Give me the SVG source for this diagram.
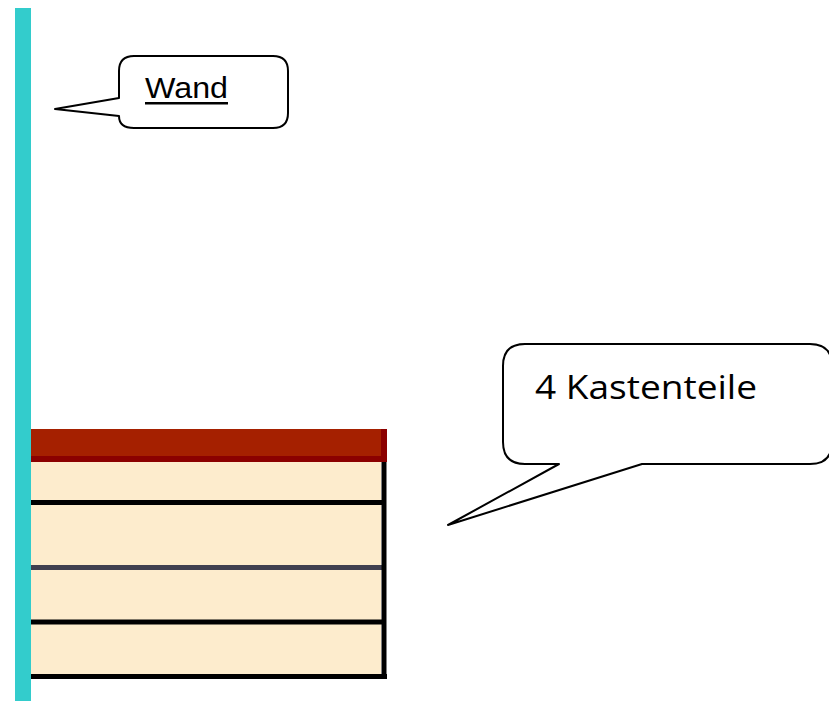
<svg xmlns="http://www.w3.org/2000/svg" width="829" height="701" viewBox="0 0 829 701">
  <style>
    .callout { fill: #ffffff; stroke: #000000; stroke-width: 2; stroke-linejoin: round; }
    .label { font-family: "Liberation Sans", Arial, sans-serif; fill: #000000; }
    .part { fill: #FDECCD; }
    .sep { stroke: #000000; stroke-width: 5; }
  </style>

  <!-- wall -->
  <g id="wall">
    <rect x="15" y="8" width="16" height="693" fill="#33CCCC"/>
  </g>

  <!-- box made of four parts with a red lid -->
  <g id="box">
    <rect class="part" x="31" y="462" width="350" height="214"/>
    <rect x="31" y="429" width="350" height="27" fill="#A52000"/>
    <rect x="31" y="456" width="350" height="6" fill="#8B0000"/>
    <rect x="381" y="429" width="6" height="33" fill="#8B0000"/>
    <line class="sep" x1="31" y1="502.5" x2="384" y2="502.5"/>
    <line x1="31" y1="567.5" x2="384" y2="567.5" stroke="#404050" stroke-width="5"/>
    <line class="sep" x1="31" y1="622" x2="384" y2="622"/>
    <line class="sep" x1="31" y1="676.5" x2="387" y2="676.5"/>
    <line class="sep" x1="384" y1="462" x2="384" y2="679"/>
  </g>

  <!-- callout: Wand -->
  <g id="callout-wand">
    <path class="callout" d="M134,56 H273 Q288,56 288,71 V113 Q288,128 273,128 H134 Q119,128 119,116 L55,109 L119,98 V71 Q119,56 134,56 Z"/>
    <text class="label" x="145" y="98" font-size="30" textLength="83" lengthAdjust="spacingAndGlyphs">Wand</text>
    <rect x="145" y="102" width="83" height="2.5" fill="#000000"/>
  </g>

  <!-- callout: 4 Kastenteile -->
  <g id="callout-kasten">
    <path class="callout" d="M525,344 H810 Q832,344 832,366 V442 Q832,464 810,464 H642 L448,525 L559,464 H525 Q503,464 503,442 V366 Q503,344 525,344 Z"/>
    <text x="535" y="399" font-family="'Open Sans', 'Noto Sans', sans-serif" font-size="33" textLength="222" lengthAdjust="spacingAndGlyphs" fill="#000000">4 Kastenteile</text>
  </g>
</svg>
